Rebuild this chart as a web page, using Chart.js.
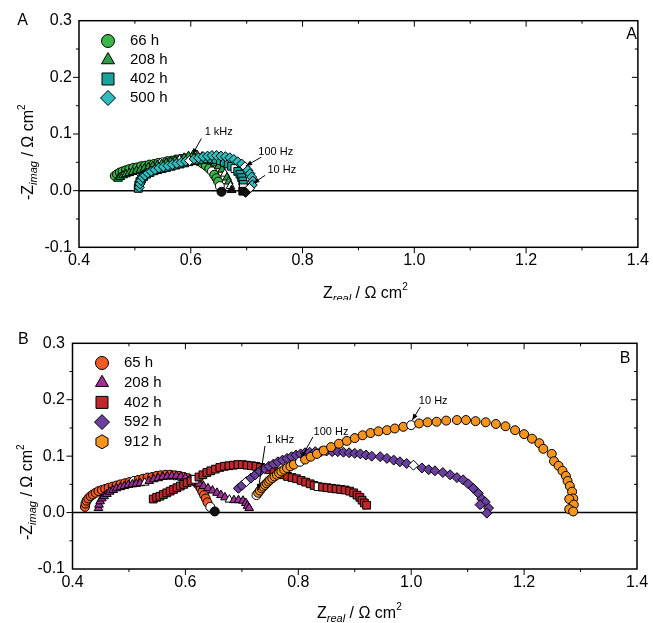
<!DOCTYPE html>
<html>
<head>
<meta charset="utf-8">
<script src="https://cdn.jsdelivr.net/npm/chart.js@4.4.0/dist/chart.umd.min.js"></script>
<style>
  html, body { margin: 0; padding: 0; background: #fff; }
  #wrapA { position: absolute; left: 0; top: 0; width: 653px; height: 300px; }
  #wrapB { position: absolute; left: 0; top: 300px; width: 653px; height: 323px; }
</style>
</head>
<body>
<div id="wrapA"><canvas id="chartA"></canvas></div>
<div id="wrapB"><canvas id="chartB"></canvas></div>
<script>
// ---- panel A data (Z real / -Z imag, ohm cm2) ----
const a66Re = [0.464,0.468,0.473,0.478,0.484,0.490,0.497,0.504,0.511,0.518,0.526,0.534,0.542,0.550,0.558,0.566,0.574,0.582,0.590,0.598,0.606,0.614,0.621,0.627,0.633,0.638,0.642,0.646,0.649,0.652,0.655];
const a66Im = [0.026,0.029,0.032,0.034,0.036,0.038,0.040,0.041,0.043,0.044,0.046,0.047,0.049,0.050,0.052,0.053,0.055,0.056,0.057,0.057,0.055,0.052,0.048,0.044,0.039,0.034,0.028,0.022,0.016,0.008,-0.002];
const a208Re = [0.470,0.474,0.479,0.484,0.490,0.496,0.503,0.510,0.517,0.524,0.532,0.540,0.548,0.556,0.564,0.572,0.580,0.588,0.596,0.604,0.612,0.620,0.628,0.636,0.643,0.650,0.656,0.661,0.665,0.668,0.671,0.673];
const a208Im = [0.021,0.024,0.027,0.029,0.031,0.033,0.035,0.037,0.039,0.041,0.043,0.045,0.047,0.049,0.051,0.053,0.055,0.058,0.061,0.063,0.062,0.060,0.057,0.053,0.048,0.043,0.037,0.030,0.023,0.016,0.008,0.001];
const a402Re = [0.506,0.507,0.509,0.512,0.516,0.521,0.527,0.534,0.541,0.549,0.557,0.565,0.573,0.581,0.589,0.597,0.605,0.613,0.621,0.629,0.637,0.645,0.653,0.660,0.667,0.673,0.679,0.684,0.688,0.691,0.693,0.694,0.694,0.693];
const a402Im = [0.004,0.010,0.016,0.021,0.025,0.029,0.032,0.035,0.037,0.039,0.041,0.043,0.045,0.047,0.049,0.051,0.053,0.054,0.055,0.056,0.056,0.055,0.053,0.050,0.047,0.043,0.039,0.034,0.029,0.023,0.017,0.011,0.005,-0.001];
const a500Re = [0.508,0.509,0.511,0.514,0.518,0.523,0.529,0.536,0.543,0.551,0.559,0.567,0.575,0.583,0.591,0.598,0.606,0.614,0.622,0.630,0.638,0.646,0.654,0.662,0.670,0.677,0.684,0.691,0.697,0.702,0.706,0.709,0.711,0.710,0.705,0.698];
const a500Im = [0.006,0.012,0.018,0.023,0.027,0.031,0.034,0.037,0.040,0.042,0.044,0.046,0.048,0.050,0.052,0.053,0.056,0.058,0.060,0.061,0.062,0.062,0.061,0.060,0.058,0.055,0.051,0.047,0.042,0.036,0.030,0.024,0.017,0.010,0.004,-0.003];

// ---- panel B data ----
const b65Re = [0.422,0.423,0.425,0.428,0.432,0.436,0.441,0.446,0.452,0.458,0.464,0.471,0.478,0.485,0.493,0.501,0.509,0.517,0.525,0.533,0.541,0.549,0.557,0.565,0.573,0.581,0.589,0.597,0.605,0.612,0.618,0.623,0.627,0.630,0.633,0.636,0.639,0.644,0.652];
const b65Im = [0.010,0.016,0.021,0.025,0.029,0.032,0.035,0.038,0.040,0.042,0.044,0.046,0.048,0.050,0.052,0.054,0.056,0.058,0.060,0.062,0.063,0.065,0.066,0.067,0.067,0.066,0.065,0.063,0.061,0.058,0.054,0.049,0.043,0.037,0.031,0.025,0.018,0.010,0.002];
const b208Re = [0.446,0.447,0.449,0.452,0.456,0.461,0.466,0.472,0.478,0.485,0.492,0.499,0.506,0.513,0.520,0.528,0.536,0.544,0.552,0.560,0.568,0.576,0.584,0.592,0.600,0.608,0.616,0.624,0.632,0.640,0.648,0.656,0.663,0.670,0.678,0.686,0.694,0.702,0.707,0.710,0.713];
const b208Im = [0.008,0.014,0.020,0.025,0.029,0.033,0.037,0.040,0.043,0.045,0.047,0.049,0.050,0.051,0.052,0.053,0.056,0.059,0.061,0.063,0.064,0.065,0.065,0.064,0.062,0.059,0.055,0.051,0.047,0.043,0.039,0.035,0.031,0.027,0.023,0.022,0.022,0.021,0.017,0.012,0.008];
const b402Re = [0.543,0.549,0.555,0.561,0.567,0.573,0.579,0.585,0.591,0.597,0.603,0.610,0.617,0.624,0.631,0.638,0.645,0.653,0.661,0.669,0.677,0.685,0.693,0.701,0.709,0.717,0.725,0.733,0.741,0.749,0.757,0.765,0.773,0.781,0.789,0.797,0.805,0.813,0.821,0.828,0.835,0.843,0.851,0.859,0.867,0.875,0.883,0.891,0.898,0.904,0.909,0.913,0.917,0.921];
const b402Im = [0.024,0.027,0.029,0.032,0.035,0.038,0.041,0.044,0.047,0.050,0.053,0.056,0.059,0.063,0.067,0.071,0.074,0.077,0.080,0.082,0.083,0.084,0.085,0.085,0.084,0.083,0.082,0.080,0.078,0.076,0.073,0.070,0.067,0.064,0.062,0.060,0.057,0.054,0.051,0.048,0.046,0.045,0.044,0.043,0.042,0.041,0.040,0.038,0.035,0.031,0.027,0.022,0.017,0.013];
const b592Re = [0.694,0.700,0.708,0.716,0.724,0.732,0.740,0.748,0.756,0.764,0.772,0.780,0.788,0.796,0.804,0.812,0.820,0.830,0.840,0.850,0.860,0.870,0.880,0.890,0.900,0.910,0.920,0.930,0.945,0.957,0.969,0.980,0.992,1.004,1.019,1.031,1.042,1.056,1.069,1.081,1.092,1.101,1.110,1.119,1.125,1.131,1.122,1.137,1.134];
const b592Im = [0.043,0.048,0.055,0.061,0.067,0.073,0.078,0.082,0.086,0.090,0.093,0.096,0.099,0.102,0.104,0.106,0.107,0.108,0.108,0.109,0.108,0.108,0.107,0.106,0.105,0.104,0.102,0.100,0.099,0.096,0.093,0.090,0.087,0.084,0.079,0.076,0.074,0.071,0.067,0.062,0.058,0.051,0.043,0.034,0.024,0.019,0.014,0.008,-0.001];
const b912Re = [0.726,0.729,0.732,0.735,0.738,0.741,0.744,0.747,0.750,0.754,0.758,0.762,0.766,0.770,0.775,0.780,0.786,0.792,0.803,0.812,0.822,0.833,0.845,0.858,0.872,0.886,0.900,0.914,0.928,0.942,0.957,0.971,0.986,1.000,1.014,1.029,1.045,1.062,1.081,1.097,1.114,1.132,1.150,1.167,1.184,1.200,1.214,1.227,1.234,1.249,1.253,1.261,1.268,1.274,1.277,1.281,1.285,1.287,1.280,1.288,1.280,1.287];
const b912Im = [0.031,0.035,0.039,0.043,0.046,0.049,0.052,0.055,0.058,0.061,0.064,0.067,0.070,0.073,0.076,0.079,0.082,0.085,0.090,0.094,0.099,0.104,0.110,0.116,0.122,0.127,0.132,0.137,0.141,0.144,0.146,0.149,0.152,0.155,0.158,0.160,0.161,0.163,0.164,0.164,0.162,0.160,0.157,0.153,0.146,0.139,0.131,0.123,0.113,0.104,0.091,0.083,0.074,0.065,0.056,0.047,0.037,0.025,0.024,0.014,0.006,0.002];

// decade frequency points (open symbols) and last point (dark)
const a66White = [13, 25, 29], a208White = [16, 27, 30], a402White = [15, 26, 32], a500White = [15, 28, 34];
const b65White = [16, 37], b208White = [15, 34], b402White = [12, 40], b592White = [2, 33], b912White = [0, 18, 33];

const labelsA = ['66 h', '208 h', '402 h', '500 h'];
const labelsB = ['65 h', '208 h', '402 h', '592 h', '912 h'];

const xTicks = [0.4, 0.6, 0.8, 1.0, 1.2, 1.4];
const xMinor = [0.5, 0.7, 0.9, 1.1, 1.3];
const yTicks = [-0.1, 0.0, 0.1, 0.2, 0.3];
const yMinor = [-0.05, 0.05, 0.15, 0.25];

const FONT = '"Liberation Sans", Arial, sans-serif';
Chart.defaults.font.family = FONT;
Chart.defaults.color = '#000';

function pts(re, im) {
    return re.slice(0, Math.min(re.length, im.length)).map((v, i) => ({ x: v, y: im[i] }));
}

function series(label, re, im, color, style, radius, white, dark) {
    return {
        label: label,
        data: pts(re, im),
        pointStyle: style,
        pointRadius: radius,
        pointBorderWidth: 1,
        pointBorderColor: '#000',
        pointBackgroundColor: ctx => {
            if (white.includes(ctx.dataIndex)) return '#fff';
            if (dark.includes(ctx.dataIndex)) return '#111';
            return color;
        },
        showLine: false
    };
}

function richText(ctx, parts, x, y) {
    let cx = x;
    parts.forEach(p => {
        ctx.font = (p.it ? 'italic ' : '') + p.size + 'px ' + FONT;
        ctx.fillText(p.t, cx, y + (p.dy || 0));
        cx += ctx.measureText(p.t).width;
    });
}

function hexPath(ctx, x, y, r) {
    ctx.beginPath();
    for (let k = 0; k < 6; k++) {
        const ang = Math.PI / 6 + k * Math.PI / 3;
        const px = x + r * Math.cos(ang), py = y + r * Math.sin(ang);
        if (k === 0) ctx.moveTo(px, py); else ctx.lineTo(px, py);
    }
    ctx.closePath();
}

function arrow(ctx, x1, y1, x2, y2) {
    ctx.beginPath();
    ctx.moveTo(x1, y1);
    ctx.lineTo(x2, y2);
    ctx.stroke();
    const ang = Math.atan2(y2 - y1, x2 - x1);
    const L = 6, W = 2.5;
    ctx.beginPath();
    ctx.moveTo(x2, y2);
    ctx.lineTo(x2 - L * Math.cos(ang) + W * Math.sin(ang), y2 - L * Math.sin(ang) - W * Math.cos(ang));
    ctx.lineTo(x2 - L * Math.cos(ang) - W * Math.sin(ang), y2 - L * Math.sin(ang) + W * Math.cos(ang));
    ctx.closePath();
    ctx.fill();
}

const framePlugin = {
    id: 'frame',
    beforeDatasetsDraw(chart) {
        const { ctx, chartArea: a, scales: { x, y } } = chart;
        const y0 = y.getPixelForValue(0);
        ctx.save();
        ctx.strokeStyle = '#000';
        ctx.lineWidth = 1.5;
        ctx.beginPath();
        ctx.moveTo(a.left, y0);
        ctx.lineTo(a.right, y0);
        ctx.stroke();
        ctx.restore();
    },
    afterDatasetsDraw(chart) {
        const { ctx, chartArea: a, scales: { x, y } } = chart;
        ctx.save();
        ctx.strokeStyle = '#000';
        ctx.lineWidth = 1.5;
        ctx.strokeRect(a.left, a.top, a.right - a.left, a.bottom - a.top);
        ctx.lineWidth = 1;
        ctx.beginPath();
        const tick = (vals, len) => {
            vals.forEach(v => {
                const px = x.getPixelForValue(v);
                ctx.moveTo(px, a.bottom); ctx.lineTo(px, a.bottom + len);
                ctx.moveTo(px, a.top); ctx.lineTo(px, a.top + len);
            });
        };
        const ytick = (vals, len) => {
            vals.forEach(v => {
                const py = y.getPixelForValue(v);
                ctx.moveTo(a.left, py); ctx.lineTo(a.left - len, py);
                ctx.moveTo(a.right, py); ctx.lineTo(a.right - len, py);
            });
        };
        tick(xTicks.slice(1, -1), 6);
        tick(xMinor, 3);
        ytick(yTicks.slice(1, -1), 6);
        ytick(yMinor, 3);
        ctx.stroke();
        ctx.restore();
    },
    afterDraw(chart, args, o) {
        const { ctx, chartArea: a, scales: { x, y } } = chart;
        ctx.save();
        ctx.fillStyle = '#000';
        ctx.strokeStyle = '#000';

        // panel letters
        ctx.font = '16px ' + FONT;
        ctx.textAlign = 'center';
        ctx.textBaseline = 'middle';
        ctx.fillText(o.letter, o.letterOut[0], o.letterOut[1]);
        ctx.fillText(o.letter, o.letterIn[0], o.letterIn[1]);

        // frequency notes
        ctx.font = '11px ' + FONT;
        ctx.lineWidth = 1;
        o.notes.forEach(n => {
            ctx.fillText(n.t, x.getPixelForValue(n.tx), y.getPixelForValue(n.ty));
            arrow(ctx, x.getPixelForValue(n.x1), y.getPixelForValue(n.y1),
                  x.getPixelForValue(n.x2), y.getPixelForValue(n.y2));
        });

        // axis titles
        ctx.textAlign = 'left';
        ctx.textBaseline = 'alphabetic';
        richText(ctx, [{ t: 'Z', size: 16 }, { t: 'real', size: 11, dy: 4, it: true },
                       { t: ' / \u03a9 cm', size: 16 }, { t: '2', size: 10, dy: -8 }],
                 o.xTitle[0], o.xTitle[1]);
        ctx.save();
        ctx.translate(o.yTitle[0], o.yTitle[1]);
        ctx.rotate(-Math.PI / 2);
        richText(ctx, [{ t: '-Z', size: 16 }, { t: 'imag', size: 11, dy: 4, it: true },
                       { t: ' / \u03a9 cm', size: 16 }, { t: '2', size: 10, dy: -8 }], 0, 0);
        ctx.restore();

        // legend
        const ds = chart.data.datasets;
        ds.forEach((d, i) => {
            const lx = o.legend[0], ly = o.legend[1] + i * o.legend[2];
            ctx.fillStyle = o.colors[i];
            ctx.lineWidth = 1;
            if (o.styles[i] === 'hex') {
                hexPath(ctx, lx, ly, 7);
                ctx.fill();
                ctx.stroke();
            } else {
                Chart.helpers.drawPoint(ctx, { pointStyle: o.styles[i], radius: o.legendR[i], rotation: 0, borderWidth: 1 }, lx, ly);
            }
            ctx.fillStyle = '#000';
            ctx.font = '15px ' + FONT;
            ctx.textBaseline = 'middle';
            ctx.fillText(d.label, o.legend[3], ly);
        });
        ctx.restore();
    }
};

function makeChart(id, datasets, box, pluginOpts) {
    datasets.forEach((d, i) => { d.order = -i; });
    return new Chart(document.getElementById(id), {
        type: 'scatter',
        data: { datasets: datasets },
        options: {
            responsive: true,
            maintainAspectRatio: false,
            animation: false,
            events: [],
            layout: { padding: { left: 0, top: box.top, right: box.right, bottom: 0 } },
            scales: {
                x: {
                    type: 'linear', min: 0.4, max: 1.4,
                    grid: { display: false, drawTicks: false },
                    border: { display: false },
                    ticks: { stepSize: 0.2, padding: 4, font: { size: 16 }, color: '#000',
                             callback: v => v.toFixed(1) },
                    afterFit: s => { s.height = box.xh; }
                },
                y: {
                    type: 'linear', min: -0.1, max: 0.3,
                    grid: { display: false, drawTicks: false },
                    border: { display: false },
                    ticks: { stepSize: 0.1, padding: box.ypad, font: { size: 16 }, color: '#000',
                             callback: v => v.toFixed(1) },
                    afterFit: s => { s.width = box.left; }
                }
            },
            plugins: {
                legend: { display: false },
                tooltip: { enabled: false },
                frame: pluginOpts
            }
        },
        plugins: [framePlugin]
    });
}

// Panel A
const colorsA = ['#3cb54a', '#2b9e47', '#17a39a', '#2dbdbd'];
const stylesA = ['circle', 'triangle', 'rect', 'rectRot'];
makeChart('chartA', [
    series(labelsA[0], a66Re, a66Im, colorsA[0], 'circle', 4.5, a66White, [30]),
    series(labelsA[1], a208Re, a208Im, colorsA[1], 'triangle', 5, a208White, [31]),
    series(labelsA[2], a402Re, a402Im, colorsA[2], 'rect', 5.5, a402White, [33]),
    series(labelsA[3], a500Re, a500Im, colorsA[3], 'rectRot', 5, a500White, [35])
], { top: 20.7, right: 10, left: 79, xh: 52.7, ypad: 7 }, {
    letter: 'A', letterOut: [22.7, 20.7], letterIn: [631.7, 35],
    notes: [
        { t: '1 kHz', tx: 0.650, ty: 0.103, x1: 0.619, y1: 0.092, x2: 0.603, y2: 0.064 },
        { t: '100 Hz', tx: 0.752, ty: 0.068, x1: 0.726, y1: 0.059, x2: 0.699, y2: 0.044 },
        { t: '10 Hz', tx: 0.763, ty: 0.036, x1: 0.733, y1: 0.027, x2: 0.712, y2: 0.013 }
    ],
    xTitle: [323, 298], yTitle: [33, 200],
    legend: [108, 41, 19, 130], colors: colorsA, styles: stylesA, legendR: [6.5, 7.5, 8.5, 7.5]
});

// Panel B
const colorsB = ['#f15a24', '#9e2f97', '#c1272d', '#6b3f9e', '#f7941d'];
const stylesB = ['circle', 'triangle', 'rect', 'rectRot', 'hex'];
makeChart('chartB', [
    series(labelsB[0], b65Re, b65Im, colorsB[0], 'circle', 4.5, b65White, [38]),
    series(labelsB[1], b208Re, b208Im, colorsB[1], 'triangle', 5, b208White, []),
    series(labelsB[2], b402Re, b402Im, colorsB[2], 'rect', 5.5, b402White, []),
    series(labelsB[3], b592Re, b592Im, colorsB[3], 'rectRot', 5, b592White, []),
    series(labelsB[4], b912Re, b912Im, colorsB[4], 'circle', 4.5, b912White, [])
], { top: 43.3, right: 16, left: 72.5, xh: 54, ypad: 7.5 }, {
    letter: 'B', letterOut: [23.3, 39.3], letterIn: [625, 58.3],
    notes: [
        { t: '1 kHz', tx: 0.768, ty: 0.129, x1: 0.741, y1: 0.118, x2: 0.729, y2: 0.040 },
        { t: '100 Hz', tx: 0.858, ty: 0.143, x1: 0.826, y1: 0.134, x2: 0.805, y2: 0.097 },
        { t: '10 Hz', tx: 1.039, ty: 0.198, x1: 1.016, y1: 0.187, x2: 1.002, y2: 0.164 }
    ],
    xTitle: [317, 318], yTitle: [32, 240],
    legend: [102, 63, 19.7, 124], colors: colorsB, styles: stylesB, legendR: [6.5, 7.5, 8.5, 7.5, 7]
});
</script>
</body>
</html>
